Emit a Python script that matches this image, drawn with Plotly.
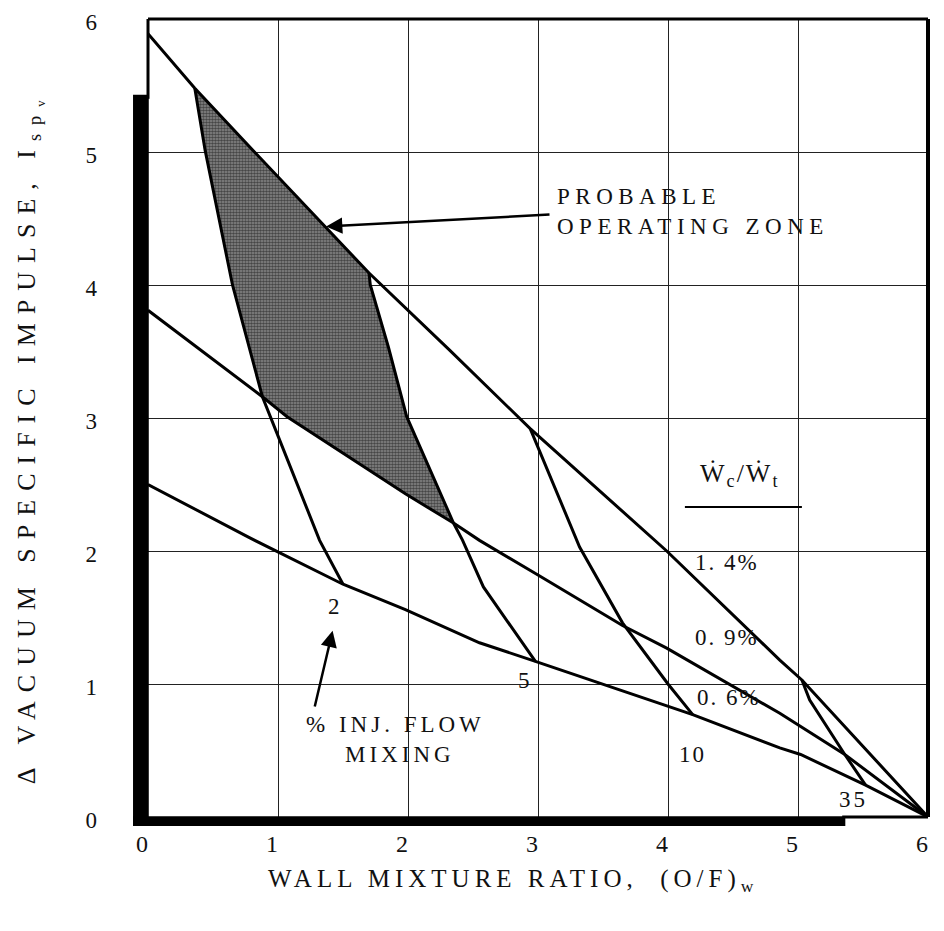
import plotly.graph_objects as go

# ---- data ----
# coolant flow ratio lines (Wc/Wt)
o14_x = [0.0, 0.36, 0.81, 1.36, 1.70, 2.32, 2.94, 3.99, 4.86, 5.03, 6.0]
o14_y = [5.89, 5.48, 5.01, 4.44, 4.09, 3.51, 2.92, 2.00, 1.18, 1.03, 0.0]
o09_x = [0.0, 0.88, 1.07, 1.98, 2.35, 2.55, 3.0, 3.65, 3.99, 4.86, 5.36, 6.0]
o09_y = [3.81, 3.16, 3.01, 2.43, 2.21, 2.08, 1.82, 1.44, 1.27, 0.78, 0.47, 0.0]
o06_x = [0.0, 0.78, 1.5, 1.98, 2.55, 2.98, 4.19, 4.86, 5.02, 5.52, 6.0]
o06_y = [2.50, 2.10, 1.75, 1.56, 1.31, 1.17, 0.77, 0.52, 0.47, 0.24, 0.0]
# injector flow mixing curves (%)
m2_x = [0.36, 0.44, 0.65, 0.88, 0.99, 1.22, 1.32, 1.5]
m2_y = [5.48, 5.01, 4.00, 3.16, 2.89, 2.33, 2.08, 1.75]
m5_x = [1.70, 1.71, 1.85, 1.99, 2.35, 2.42, 2.58, 2.98]
m5_y = [4.09, 4.00, 3.53, 3.01, 2.21, 2.08, 1.73, 1.17]
m10_x = [2.94, 3.32, 3.65, 4.0, 4.19]
m10_y = [2.92, 2.03, 1.46, 1.00, 0.77]
m35_x = [5.03, 5.09, 5.36, 5.52]
m35_y = [1.03, 0.88, 0.47, 0.24]
# probable operating zone corners (x on 1.4%, 5%, 0.9%, 2% boundaries)
zone_corner_x = [0.36, 1.70, 2.35, 0.88]

x_ticks = [0, 1, 2, 3, 4, 5, 6]
y_ticks = [0, 1, 2, 3, 4, 5, 6]

FONT = "Liberation Serif"


def seg(xs, ys, x0, x1):
    return [(x, y) for x, y in zip(xs, ys) if x0 - 1e-9 <= x <= x1 + 1e-9]


c = zone_corner_x
zone = (seg(o14_x, o14_y, c[0], c[1]) + seg(m5_x, m5_y, c[1], c[2])
        + seg(o09_x, o09_y, c[3], c[2])[::-1] + seg(m2_x, m2_y, c[0], c[3])[::-1])

fig = go.Figure()
fig.add_trace(go.Scatter(
    x=[p[0] for p in zone], y=[p[1] for p in zone], mode="lines",
    fill="toself", fillcolor="#5e5e5e", line=dict(width=0),
    fillpattern=dict(shape=".", size=3, solidity=0.6, fgcolor="#000000", bgcolor="#8c8c8c"),
    hoverinfo="skip", showlegend=False))

for xs, ys in [(o14_x, o14_y), (o09_x, o09_y), (o06_x, o06_y), (m2_x, m2_y),
               (m5_x, m5_y), (m10_x, m10_y), (m35_x, m35_y)]:
    fig.add_trace(go.Scatter(x=xs, y=ys, mode="lines",
                             line=dict(color="black", width=3),
                             hoverinfo="skip", showlegend=False))

ls = lambda s, sp: f'<span style="letter-spacing:{sp}px">{s}</span>'

ann = []
def txt(x, y, s, size=22, xanchor="center", sp=2, align="center"):
    ann.append(dict(x=x, y=y, xref="x", yref="y", text=ls(s, sp), showarrow=False,
                    xanchor=xanchor, yanchor="middle", align=align,
                    font=dict(family=FONT, size=size, color="#111")))

txt(1.44, 1.58, "2", size=23)
txt(2.90, 1.03, "5", size=23)
txt(4.19, 0.47, "10", size=23)
txt(5.43, 0.13, "35", size=23, sp=3)
txt(4.45, 1.91, "1. 4%", size=23)
txt(4.45, 1.35, "0. 9%", size=23)
txt(4.47, 0.90, "0. 6%", size=23)
txt(4.55, 2.57, "Ẇ<sub>c</sub>/Ẇ<sub>t</sub>", size=26)
txt(3.13, 4.55, "PROBABLE<br>OPERATING ZONE", size=23, xanchor="left", sp=5.5, align="left")
txt(1.20, 0.58, "% INJ. FLOW<br>    MIXING", size=23, xanchor="left", sp=4, align="left")

# arrows
ann.append(dict(x=1.37, y=4.44, ax=3.10, ay=4.53, xref="x", yref="y", axref="x", ayref="y",
                text="", showarrow=True, arrowhead=2, arrowsize=1.3, arrowwidth=2.5,
                arrowcolor="black"))
ann.append(dict(x=1.42, y=1.40, ax=1.28, ay=0.82, xref="x", yref="y", axref="x", ayref="y",
                text="", showarrow=True, arrowhead=2, arrowsize=1.3, arrowwidth=2.5,
                arrowcolor="black"))

# axis titles
ann.append(dict(x=0.468, y=-0.079, xref="paper", yref="paper", showarrow=False,
                xanchor="center", yanchor="middle",
                text=ls("WALL MIXTURE RATIO,  (O/F)<sub>w</sub>", 5),
                font=dict(family=FONT, size=25, color="#111")))
ann.append(dict(x=-0.151, y=0.475, xref="paper", yref="paper", showarrow=False, textangle=-90,
                xanchor="center", yanchor="middle",
                text=ls("Δ VACUUM SPECIFIC IMPULSE, I<sub>sp<sub>v</sub></sub>", 9),
                font=dict(family=FONT, size=26, color="#111")))

shapes = [
    # underline of Wc/Wt
    dict(type="line", xref="x", yref="y", x0=4.13, x1=5.03, y0=2.33, y1=2.33,
         line=dict(color="black", width=2)),
    # heavy frame pieces
    dict(type="rect", xref="paper", yref="paper", x0=-0.0192, x1=0.001, y0=-0.0113, y1=0.905,
         fillcolor="black", line=dict(width=0)),
    dict(type="rect", xref="paper", yref="paper", x0=-0.0192, x1=0.894, y0=-0.0113, y1=0.001,
         fillcolor="black", line=dict(width=0)),
    dict(type="line", xref="paper", yref="paper", x0=0, x1=1, y0=1, y1=1,
         line=dict(color="black", width=3)),
    dict(type="line", xref="paper", yref="paper", x0=1, x1=1, y0=0, y1=1,
         line=dict(color="black", width=4)),
    dict(type="line", xref="paper", yref="paper", x0=0, x1=0, y0=0.9, y1=1,
         line=dict(color="black", width=3)),
    dict(type="line", xref="paper", yref="paper", x0=0.89, x1=1, y0=0, y1=0,
         line=dict(color="black", width=3)),
]

axis_common = dict(range=[0, 6], showgrid=True, gridcolor="#222", gridwidth=1.3,
                   zeroline=False, showline=False, ticks="", automargin=False,
                   ticklabeloverflow="allow")

fig.update_layout(
    width=944, height=931,
    margin=dict(l=140, r=24, t=11, b=122),
    paper_bgcolor="white", plot_bgcolor="white",
    xaxis=dict(tickvals=x_ticks, ticktext=[str(v) for v in x_ticks],
               ticklabelstandoff=10, ticklabelshift=-6,
               tickfont=dict(family=FONT, size=24, color="#111"), **axis_common),
    yaxis=dict(tickvals=y_ticks, ticktext=[str(v) for v in y_ticks],
               ticklabelstandoff=50, ticklabelshift=3,
               tickfont=dict(family=FONT, size=23, color="#111"), **axis_common),
    annotations=ann, shapes=shapes, showlegend=False,
)

fig.write_html("out.html")
